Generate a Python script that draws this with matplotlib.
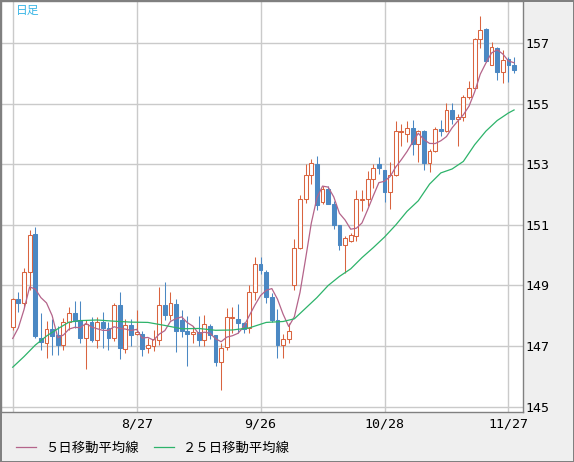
import matplotlib.pyplot as plt
import numpy as np
import pandas as pd

# daily candles, Jul 28 - Nov 28 (one entry per weekday)
opens = [147.64, 148.55, 148.43, 149.44, 150.70, 147.25, 147.11, 147.55, 147.36, 147.03,
         147.78, 148.10, 147.86, 147.28, 147.78, 147.20, 147.80, 147.58, 147.26, 148.34,
         146.90, 147.68, 147.40, 147.40, 146.92, 147.00, 147.20, 148.35, 148.03, 148.40,
         147.85, 147.50, 147.40, 147.45, 147.20, 147.67, 147.38, 146.48, 146.97, 147.94,
         147.90, 147.75, 147.58, 148.78, 149.72, 149.44, 148.62, 147.87, 147.04, 147.23,
         149.02, 150.24, 151.86, 152.64, 153.00, 151.75, 152.20, 151.70, 151.00, 150.35,
         150.46, 150.62, 151.84, 151.87, 152.52, 153.01, 152.81, 152.09, 152.65, 154.07,
         154.00, 154.20, 153.66, 154.10, 153.05, 153.46, 154.18, 154.12, 154.80, 154.50,
         154.57, 155.23, 155.53, 157.14, 157.48, 156.30, 156.85, 156.07, 156.47, 156.30]
highs = [148.60, 148.80, 149.57, 150.83, 150.92, 148.08, 147.83, 147.88, 147.66, 147.91,
         148.28, 148.50, 148.50, 147.86, 147.97, 147.97, 148.14, 147.80, 148.42, 148.78,
         147.90, 147.90, 148.19, 147.49, 147.25, 147.54, 148.95, 149.10, 148.78, 148.55,
         148.20, 148.00, 147.67, 148.00, 148.02, 147.72, 147.38, 147.10, 148.25, 148.30,
         148.40, 147.78, 149.00, 149.93, 149.95, 149.50, 148.75, 148.22, 147.40, 147.75,
         150.54, 152.00, 153.00, 153.19, 153.28, 152.28, 152.28, 151.78, 151.00, 150.62,
         150.73, 152.17, 152.15, 152.78, 153.00, 153.23, 152.81, 153.07, 154.43, 154.34,
         154.45, 154.47, 154.15, 154.15, 153.51, 154.23, 154.48, 155.03, 155.03, 154.67,
         155.31, 155.75, 157.19, 157.89, 157.52, 157.06, 156.89, 156.78, 156.56, 156.56]
lows = [147.53, 148.13, 148.30, 148.85, 147.25, 146.87, 146.60, 146.70, 146.70, 146.87,
        147.53, 147.60, 147.11, 146.23, 147.14, 146.95, 146.92, 146.87, 147.18, 146.58,
        146.76, 147.00, 147.35, 146.68, 146.78, 146.84, 147.05, 147.86, 147.86, 146.80,
        147.30, 146.35, 147.10, 147.00, 147.00, 147.24, 146.35, 145.54, 146.88, 147.43,
        147.43, 147.43, 147.43, 148.52, 149.39, 148.43, 147.80, 146.60, 146.60, 147.10,
        148.86, 150.20, 151.73, 152.34, 151.50, 151.69, 151.70, 150.87, 150.18, 149.40,
        150.44, 150.46, 151.45, 151.62, 152.23, 152.68, 151.76, 151.52, 152.62, 153.62,
        153.73, 153.30, 153.07, 152.80, 152.76, 153.42, 153.95, 154.07, 154.34, 153.62,
        154.42, 155.17, 155.50, 156.86, 156.39, 156.28, 155.78, 155.68, 155.73, 156.01]
closes = [148.55, 148.43, 149.44, 150.67, 147.34, 147.12, 147.55, 147.34, 147.03, 147.78,
          148.10, 147.84, 147.28, 147.73, 147.20, 147.80, 147.58, 147.27, 148.34, 146.93,
          147.68, 147.35, 147.45, 146.91, 147.03, 147.22, 148.35, 148.03, 148.43, 147.50,
          147.50, 147.40, 147.45, 147.20, 147.73, 147.35, 146.48, 146.95, 147.96, 147.96,
          147.75, 147.57, 148.78, 149.72, 149.52, 148.62, 147.85, 147.04, 147.23, 147.48,
          150.24, 151.86, 152.64, 153.05, 151.67, 152.20, 151.70, 151.00, 150.35, 150.57,
          150.68, 151.86, 151.87, 152.52, 152.87, 152.87, 152.09, 152.65, 154.10, 154.09,
          154.20, 153.66, 154.10, 153.05, 153.46, 154.18, 154.12, 154.79, 154.50, 154.57,
          155.23, 155.53, 157.14, 157.44, 156.41, 156.89, 156.06, 156.45, 156.28, 156.12]

# first four 5-day averages (need closes before the window)
ma5_head = [147.25, 147.60, 148.20, 148.95]

# 25-day average, read at a subset of candles
ma25_idx = [0, 2, 4, 6, 8, 10, 12, 15, 18, 21, 24, 27, 30, 33, 36, 39, 42, 45, 48, 50,
            52, 54, 56, 58, 60, 62, 64, 66, 68, 70, 72, 74, 76, 78, 80, 82, 84, 86, 88, 89]
ma25_val = [146.30, 146.65, 147.03, 147.33, 147.57, 147.79, 147.84, 147.86, 147.82, 147.79,
            147.78, 147.68, 147.57, 147.58, 147.52, 147.53, 147.60, 147.78, 147.81, 147.90,
            148.25, 148.60, 149.00, 149.30, 149.55, 149.92, 150.25, 150.60, 151.00, 151.45,
            151.80, 152.35, 152.72, 152.85, 153.10, 153.65, 154.10, 154.45, 154.70, 154.80]

tick_pos = [0, 22, 44, 66, 88]
tick_labels = ['', '8/27', '9/26', '10/28', '11/27']
y_ticks = [145, 147, 149, 151, 153, 155, 157]

up_color = '#d9643f'
down_color = '#4b88c3'
ma5_color = '#b4648a'
ma25_color = '#2db36a'
grid_color = '#cacaca'
cjk = ['Noto Sans CJK JP', 'DejaVu Sans']

df = pd.DataFrame({'open': opens, 'high': highs, 'low': lows, 'close': closes})
df['ma5'] = df['close'].rolling(5).mean()
df.loc[:3, 'ma5'] = ma5_head
x = np.arange(len(df))
up = df['close'] >= df['open']

fig = plt.figure(figsize=(5.74, 4.62), dpi=100)
fig.patch.set_facecolor('#efefef')
fig.patch.set_edgecolor('#808080')
fig.patch.set_linewidth(2)
ax = fig.add_axes([1 / 574, 50.3 / 462, 522.3 / 574, 410.7 / 462])
ax.set_facecolor('white')

# wicks
ax.vlines(x[up], df['low'][up], df['high'][up], color=up_color, lw=0.75, zorder=2)
ax.vlines(x[~up], df['low'][~up], df['high'][~up], color=down_color, lw=0.75, zorder=2)

# bodies
body_lo = np.minimum(df['open'], df['close'])
body_h = (df['close'] - df['open']).abs()
ax.bar(x[up], body_h[up], bottom=body_lo[up], width=0.68,
       facecolor='white', edgecolor=up_color, linewidth=0.75, zorder=3)
ax.bar(x[~up], body_h[~up], bottom=body_lo[~up], width=0.68,
       facecolor=down_color, edgecolor=down_color, linewidth=0.75, zorder=3)

ax.plot(x, df['ma5'], color=ma5_color, lw=0.9, zorder=4, label='５日移動平均線')
ax.plot(ma25_idx, ma25_val, color=ma25_color, lw=0.9, zorder=4, label='２５日移動平均線')

ax.set_xlim(-2.08, 90.64)
ax.set_ylim(144.83, 158.40)
ax.set_xticks(tick_pos)
ax.set_xticklabels(tick_labels)
ax.set_yticks(y_ticks)
ax.yaxis.tick_right()
ax.tick_params(axis='y', length=0, pad=1.5, labelsize=9.5)
ax.tick_params(axis='x', length=0, pad=4.5, labelsize=9.5)
for lab in ax.get_xticklabels() + ax.get_yticklabels():
    lab.set_family('DejaVu Sans Mono')
ax.grid(True, color=grid_color, lw=1.0)
ax.set_axisbelow(True)
for s in ax.spines.values():
    s.set_color('#808080')
    s.set_linewidth(1.0)

fig.text(16 / 574, 1 - 10 / 462, '日足', color='#3ab6e6', fontsize=8.5,
         family=cjk, va='center', ha='left')

fig.legend(loc='center left', bbox_to_anchor=(16 / 574, 1 - 448 / 462), ncol=2,
           frameon=False, prop={'family': cjk, 'size': 9.6},
           handlelength=1.5, handletextpad=0.7, columnspacing=1.1,
           borderaxespad=0, borderpad=0)

fig.savefig('out.png', dpi=100, facecolor=fig.get_facecolor(), edgecolor=fig.get_edgecolor())
